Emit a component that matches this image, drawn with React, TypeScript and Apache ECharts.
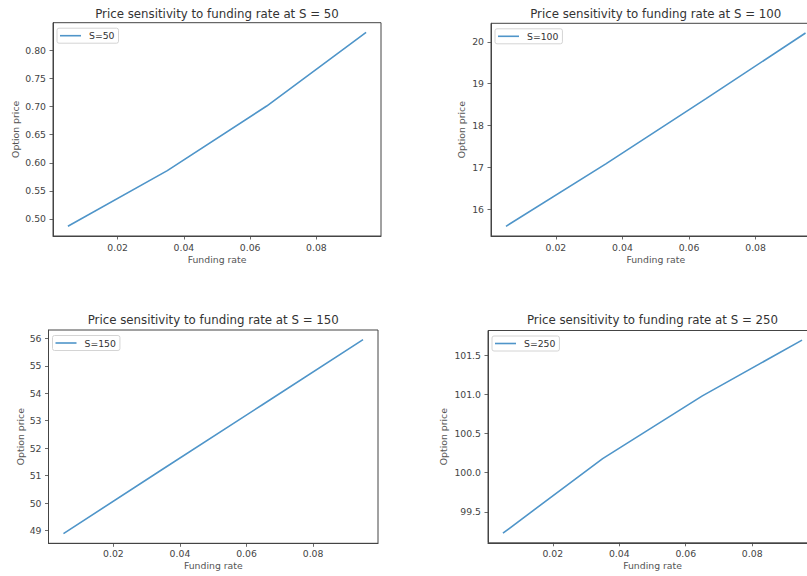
import React, { useEffect, useRef } from "react";
import * as echarts from "echarts";

// ---- data ----
const fundingRates = [0.005, 0.035, 0.065, 0.095];
const priceS50 = [0.487, 0.586, 0.701, 0.832];
const priceS100 = [15.6, 17.09, 18.64, 20.21];
const priceS150 = [48.89, 51.25, 53.6, 55.95];
const priceS250 = [99.23, 100.18, 100.98, 101.69];

const xTicks = [0.02, 0.04, 0.06, 0.08];
const yTicksS50 = [0.5, 0.55, 0.6, 0.65, 0.7, 0.75, 0.8];
const yTicksS100 = [16, 17, 18, 19, 20];
const yTicksS150 = [49, 50, 51, 52, 53, 54, 55, 56];
const yTicksS250 = [99.5, 100.0, 100.5, 101.0, 101.5];

const titles = [
  "Price sensitivity to funding rate at S = 50",
  "Price sensitivity to funding rate at S = 100",
  "Price sensitivity to funding rate at S = 150",
  "Price sensitivity to funding rate at S = 250",
];
const seriesNames = ["S=50", "S=100", "S=150", "S=250"];
const seriesValues = [priceS50, priceS100, priceS150, priceS250];
const yTickSets = [yTicksS50, yTicksS100, yTicksS150, yTicksS250];
const yDecimals = [2, 0, 0, 1];

// ---- layout (pixels) ----
const layout = [
  { left: 53, top: 22.7, width: 328, height: 213.3, yNameGap: 33, xLabelMargin: 7, xNameGap: 19, titleTop: 8 },
  { left: 491, top: 23.3, width: 329.5, height: 212.7, yNameGap: 25, xLabelMargin: 7, xNameGap: 19, titleTop: 8 },
  { left: 48.5, top: 330, width: 329.5, height: 213.3, yNameGap: 24, xLabelMargin: 6, xNameGap: 18, titleTop: 314 },
  { left: 488, top: 330.5, width: 329, height: 212.3, yNameGap: 40, xLabelMargin: 6, xNameGap: 18, titleTop: 314 },
];

const FONT = "DejaVu Sans";
const LINE_COLOR = "#4f95c9";
const FRAME = "#444";

function extent(vals: number[]): [number, number] {
  const lo = Math.min(...vals);
  const hi = Math.max(...vals);
  const m = (hi - lo) * 0.05;
  return [lo - m, hi + m];
}

export default function App() {
  const ref = useRef<HTMLDivElement>(null);
  useEffect(() => {
    if (!ref.current) return;
    const chart = echarts.init(ref.current, undefined, { renderer: "svg" });
    const [xMin, xMax] = extent(fundingRates);

    const option: any = {
      animation: false,
      backgroundColor: "#fff",
      textStyle: { fontFamily: FONT },
      title: layout.map((l, i) => ({
        text: titles[i],
        left: l.left + l.width / 2,
        top: l.titleTop,
        textAlign: "center",
        padding: 0,
        textStyle: { fontFamily: FONT, fontSize: 11.8, fontWeight: "normal", color: "#333" },
      })),
      legend: layout.map((l, i) => ({
        data: [seriesNames[i]],
        left: l.left + 4,
        top: l.top + 5.5,
        orient: "vertical",
        icon: "rect",
        itemWidth: 21,
        itemHeight: 1.6,
        itemGap: 0,
        padding: [3, 4, 3, 3],
        borderColor: "#d4d4d4",
        borderWidth: 1,
        borderRadius: 2,
        backgroundColor: "#fff",
        textStyle: { fontFamily: FONT, fontSize: 9.3, color: "#333", padding: [0, 0, 0, 3] },
      })),
      grid: layout.map((l) => ({
        left: l.left,
        top: l.top,
        width: l.width,
        height: l.height,
        show: true,
        borderColor: FRAME,
        borderWidth: 1,
        backgroundColor: "transparent",
        containLabel: false,
      })),
      xAxis: layout.map((l, i) => ({
        type: "value",
        gridIndex: i,
        min: xMin,
        max: xMax,
        name: "Funding rate",
        nameLocation: "middle",
        nameGap: l.xNameGap,
        nameTextStyle: { fontFamily: FONT, fontSize: 9.3, color: "#555" },
        axisLine: { show: true, lineStyle: { color: FRAME, width: 1 } },
        axisTick: {
          show: true,
          length: 3.5,
          customValues: xTicks,
          lineStyle: { color: FRAME, width: 0.8 },
        },
        axisLabel: {
          show: true,
          margin: l.xLabelMargin,
          customValues: xTicks,
          formatter: (v: number) => v.toFixed(2),
          fontFamily: FONT,
          fontSize: 9.3,
          color: "#444",
        },
        splitLine: { show: false },
      })),
      yAxis: layout.map((l, i) => {
        const [yMin, yMax] = extent(seriesValues[i]);
        return {
          type: "value",
          gridIndex: i,
          min: yMin,
          max: yMax,
          name: "Option price",
          nameLocation: "middle",
          nameGap: l.yNameGap,
          nameTextStyle: { fontFamily: FONT, fontSize: 9.3, color: "#555" },
          axisLine: { show: true, lineStyle: { color: FRAME, width: 1 } },
          axisTick: {
            show: true,
            length: 3.5,
            customValues: yTickSets[i],
            lineStyle: { color: FRAME, width: 0.8 },
          },
          axisLabel: {
            show: true,
            margin: 7,
            customValues: yTickSets[i],
            formatter: (v: number) => v.toFixed(yDecimals[i]),
            fontFamily: FONT,
            fontSize: 9.3,
            color: "#444",
          },
          splitLine: { show: false },
        };
      }),
      series: seriesValues.map((vals, i) => ({
        name: seriesNames[i],
        type: "line",
        xAxisIndex: i,
        yAxisIndex: i,
        data: fundingRates.map((r, k) => [r, vals[k]]),
        showSymbol: false,
        symbol: "none",
        lineStyle: { color: LINE_COLOR, width: 1.6 },
        itemStyle: { color: LINE_COLOR },
        clip: true,
      })),
    };
    chart.setOption(option);
    return () => chart.dispose();
  }, []);

  return (
    <div
      ref={ref}
      style={{ position: "fixed", left: 0, top: 0, width: 840, height: 576 }}
    />
  );
}
